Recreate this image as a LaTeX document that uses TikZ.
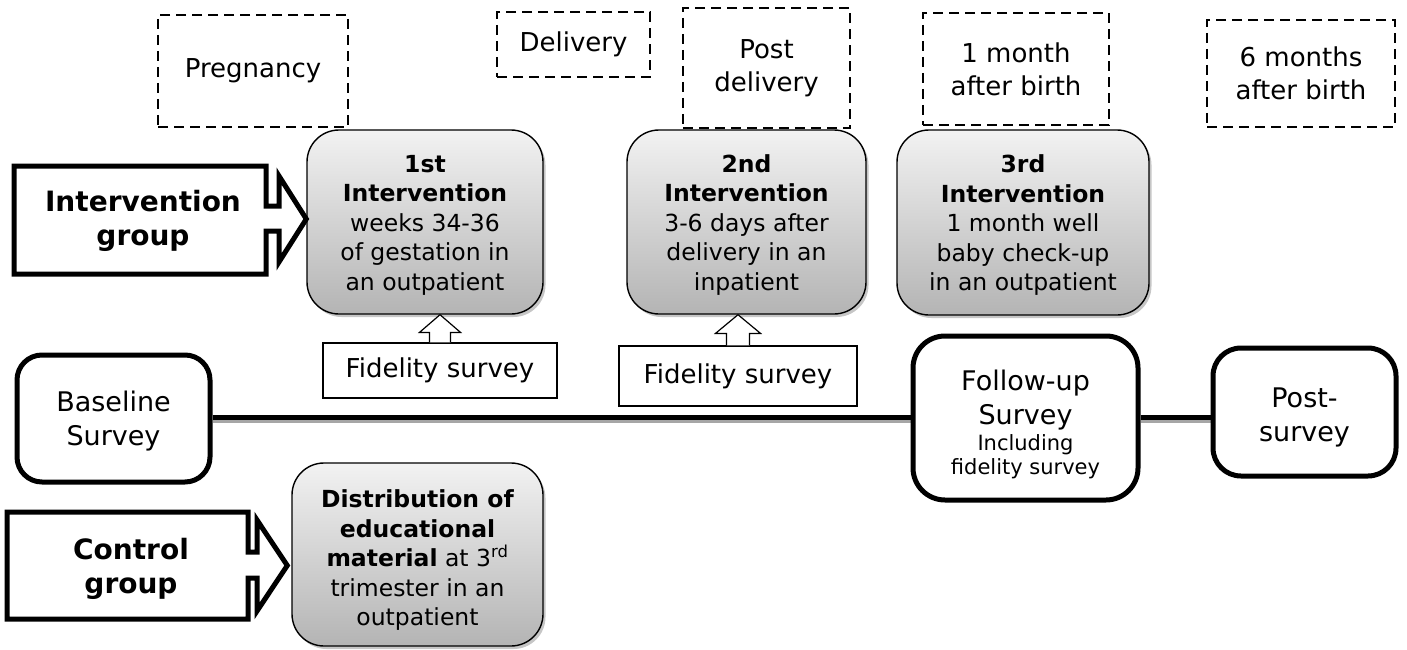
\documentclass[tikz,border=0pt]{standalone}
\usepackage{fontspec}
\setmainfont{DejaVu Sans}
\usetikzlibrary{calc,shadows,backgrounds}
\newcommand\fntbox{\fontsize{23.5}{29.5}\selectfont}
\newcommand\fntlab{\fontsize{26}{33}\selectfont}
\newcommand\fntbig{\fontsize{27}{34}\selectfont}
\newcommand\fntsmall{\fontsize{21}{24}\selectfont}
\newcommand\fntfid{\fontsize{26}{30}\selectfont}
\newcommand\fntgrp{\fontsize{28}{34}\bfseries\selectfont}
\definecolor{gtop}{RGB}{242,242,242}
\definecolor{gbot}{RGB}{180,180,180}
\begin{document}
\begin{tikzpicture}[x=1pt,y=-1pt,
  lab/.style={draw, line width=2.6pt, dash pattern=on 10pt off 6pt, align=center, inner sep=0pt, font=\fntlab},
  gbox/.style={draw, line width=1.4pt, rounded corners=32pt, top color=gtop, bottom color=gbot,
    drop shadow={shadow xshift=2.5pt, shadow yshift=-3pt, opacity=0.45}, inner sep=0pt},
  gtext/.style={align=center, inner sep=0pt, font=\fntbox},
  sbox/.style={draw, line width=5pt, rounded corners=28pt, fill=white, inner sep=0pt},
  stext/.style={align=center, inner sep=0pt, font=\fntbig},
  fidbox/.style={draw, line width=1.2pt, fill=white, align=center, inner sep=0pt, font=\fntfid},
  blockarrow/.style={draw, line width=5pt, line join=miter, fill=white},
  uparrow/.style={draw, line width=1.2pt, line join=miter, fill=white},
  grptext/.style={align=center, inner sep=0pt, font=\fntgrp},
  tline/.style={line width=5pt},
  tshadow/.style={line width=4pt, black!35}
]
\useasboundingbox (0,0) rectangle (1407,650);

% time labels
\node[lab, minimum width=190pt, minimum height=112pt] (preg) at (253,71) {Pregnancy};
\node[lab, minimum width=153pt, minimum height=65pt] (deliv) at (573.5,44.5) {Delivery};
\node[lab, minimum width=167pt, minimum height=120pt] (postd) at (766.5,68) {Post\\delivery};
\node[lab, minimum width=186pt, minimum height=112pt] (onem) at (1016,69) {1 month\\after birth};
\node[lab, minimum width=188pt, minimum height=107pt] (sixm) at (1301,73.5) {6 months\\after birth};

% interventions
\node[gbox, minimum width=236pt, minimum height=184pt] (box1) at (425,222) {};
\node[gtext] (box1t) at ($(box1.center)+(0,3)$)
  {\textbf{1st}\\\textbf{Intervention}\\weeks 34-36\\of gestation in\\an outpatient};
\node[gbox, minimum width=239pt, minimum height=184pt] (box2) at (746.5,222) {};
\node[gtext] (box2t) at ($(box2.center)+(0,3)$)
  {\textbf{2nd}\\\textbf{Intervention}\\3-6 days after\\delivery in an\\inpatient};
\node[gbox, minimum width=252pt, minimum height=185pt] (box3) at (1023,222.5) {};
\node[gtext] (box3t) at ($(box3.center)+(0,3)$)
  {\textbf{3rd}\\\textbf{Intervention}\\1 month well\\baby check-up\\in an outpatient};
\node[gbox, minimum width=251pt, minimum height=183pt] (dist) at (417.5,554.5) {};
\node[gtext] (distt) at ($(dist.center)+(0,6)$)
  {\textbf{Distribution of}\\\textbf{educational}\\\textbf{material} at 3\textsuperscript{rd}\\trimester in an\\outpatient};

% group arrows
\draw[blockarrow] (14,166) -- (266,166) -- (266,206) -- (279,206) -- (279,176)
  -- (box1.west |- 0,219) -- (279,262) -- (279,231) -- (266,231) -- (266,274) -- (14,274) -- cycle;
\node[grptext] (igrp) at (143,221) {Intervention\\group};
\draw[blockarrow] (7,512) -- (248,512) -- (248,552) -- (257,552) -- (257,520)
  -- ($(dist.west |- 0,565.5)+(-4,0)$) -- (257,611) -- (257,578) -- (248,578) -- (248,619) -- (7,619) -- cycle;
\node[grptext] (cgrp) at (131,569) {Control\\group};

% fidelity surveys
\node[fidbox, minimum width=234pt, minimum height=55pt] (fid1) at (440,370.5) {Fidelity survey};
\node[fidbox, minimum width=238pt, minimum height=60pt] (fid2) at (738,376) {Fidelity survey};
\draw[uparrow] ($(fid1.north)+(-10.5,0)$) -- ($(fid1.north)+(-10.5,-10)$) -- ($(fid1.north)+(-20.5,-10)$)
  -- (box1.south -| fid1.north) -- ($(fid1.north)+(20.5,-10)$) -- ($(fid1.north)+(10.5,-10)$) -- ($(fid1.north)+(10.5,0)$);
\draw[uparrow] ($(fid2.north)+(-11.5,0)$) -- ($(fid2.north)+(-11.5,-12)$) -- ($(fid2.north)+(-22.5,-12)$)
  -- (box2.south -| fid2.north) -- ($(fid2.north)+(22.5,-12)$) -- ($(fid2.north)+(11.5,-12)$) -- ($(fid2.north)+(11.5,0)$);

% surveys on the time line
\node[sbox, rounded corners=25pt, minimum width=193pt, minimum height=127pt] (base) at (113.5,418.5) {};
\node[stext] (baset) at ($(base.center)+(0,3)$) {Baseline\\Survey};
\node[sbox, rounded corners=32pt, minimum width=225pt, minimum height=164pt] (follow) at (1025.5,418) {};
\node[stext] (fuA) at (1025.5,400) {Follow-up\\Survey};
\node[align=center, inner sep=0pt, font=\fntsmall] (fuB) at (1025.5,457) {Including\\fidelity survey};
\node[sbox, rounded corners=28pt, minimum width=183pt, minimum height=128pt] (post) at (1304.5,412) {};
\node[stext] (postt) at ($(post.center)+(0,5)$) {Post-\\survey};

\coordinate (ly) at (0,417);
\begin{scope}[on background layer]
  \draw[tshadow] ($(base.east |- ly)+(0,4)$) -- ($(follow.west |- ly)+(0,4)$);
  \draw[tshadow] ($(follow.east |- ly)+(0,4)$) -- ($(post.west |- ly)+(0,4)$);
  \draw[tline] (base.east |- ly) -- (follow.west |- ly);
  \draw[tline] (follow.east |- ly) -- (post.west |- ly);
\end{scope}
\end{tikzpicture}
\end{document}
